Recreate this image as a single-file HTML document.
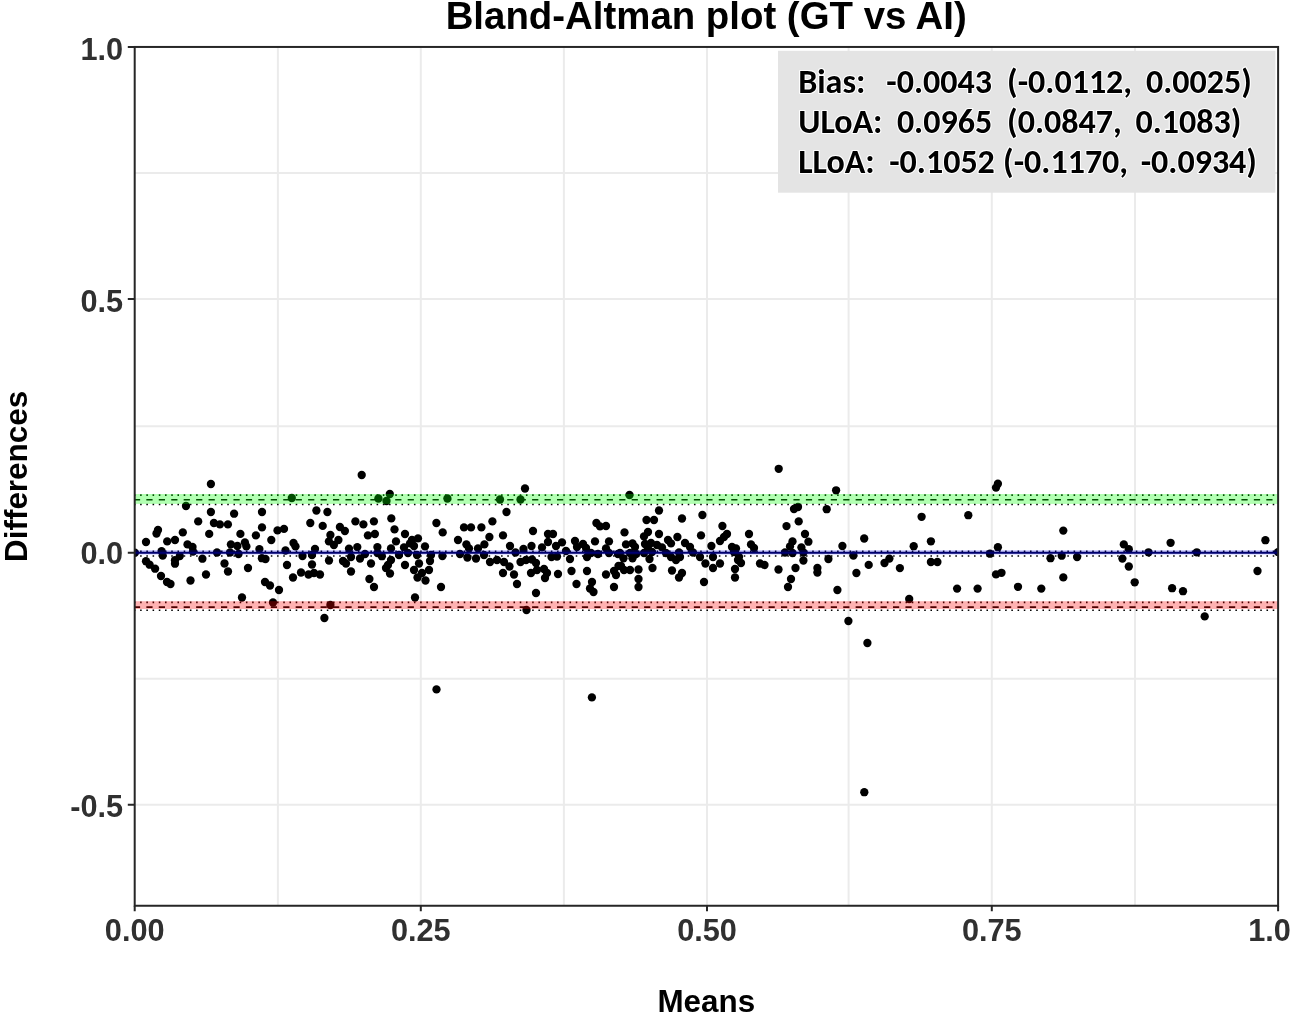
<!DOCTYPE html><html><head><meta charset="utf-8"><title>Bland-Altman plot (GT vs AI)</title><style>
html,body{margin:0;padding:0;background:#fff;width:1291px;height:1014px;overflow:hidden}
svg{display:block}
.lab{font-family:"Liberation Sans",Arial,sans-serif;font-weight:bold}
.tk{font-size:30.7px;fill:#303030}
.st{font-family:Carlito,Calibri,"Liberation Sans",sans-serif;font-weight:bold;font-size:34px;fill:#000;stroke:#fff;stroke-width:2.2px;paint-order:stroke;stroke-linejoin:round}
</style></head><body>
<svg width="1291" height="1014" viewBox="0 0 1291 1014">
<defs><clipPath id="pc"><rect x="134.7" y="46.95" width="1143.4" height="858.80"/></clipPath></defs>
<rect width="1291" height="1014" fill="#fff"/>
<path d="M277.90 46.95V905.75M420.80 46.95V905.75M563.90 46.95V905.75M707.00 46.95V905.75M848.60 46.95V905.75M991.80 46.95V905.75M1135.00 46.95V905.75M134.7 173.00H1278.1M134.7 299.05H1278.1M134.7 426.30H1278.1M134.7 552.70H1278.1M134.7 678.70H1278.1M134.7 804.70H1278.1" stroke="#ebebeb" stroke-width="2" fill="none"/>
<g clip-path="url(#pc)">
<g fill="#000">
<circle cx="210.9" cy="484.0" r="4.15"/>
<circle cx="186.0" cy="506.0" r="4.15"/>
<circle cx="210.9" cy="512.0" r="4.15"/>
<circle cx="234.1" cy="513.7" r="4.15"/>
<circle cx="198.2" cy="521.4" r="4.15"/>
<circle cx="213.9" cy="523.0" r="4.15"/>
<circle cx="219.9" cy="524.4" r="4.15"/>
<circle cx="227.9" cy="524.4" r="4.15"/>
<circle cx="158.0" cy="530.0" r="4.15"/>
<circle cx="156.5" cy="533.5" r="4.15"/>
<circle cx="182.8" cy="532.4" r="4.15"/>
<circle cx="209.2" cy="533.9" r="4.15"/>
<circle cx="240.4" cy="533.9" r="4.15"/>
<circle cx="255.9" cy="535.4" r="4.15"/>
<circle cx="146.0" cy="542.0" r="4.15"/>
<circle cx="167.2" cy="541.4" r="4.15"/>
<circle cx="175.0" cy="540.0" r="4.15"/>
<circle cx="187.5" cy="544.4" r="4.15"/>
<circle cx="192.5" cy="547.0" r="4.15"/>
<circle cx="230.9" cy="544.4" r="4.15"/>
<circle cx="237.4" cy="546.0" r="4.15"/>
<circle cx="244.9" cy="542.4" r="4.15"/>
<circle cx="246.4" cy="546.4" r="4.15"/>
<circle cx="161.6" cy="551.1" r="4.15"/>
<circle cx="162.7" cy="555.6" r="4.15"/>
<circle cx="179.8" cy="556.1" r="4.15"/>
<circle cx="175.0" cy="560.2" r="4.15"/>
<circle cx="175.0" cy="563.7" r="4.15"/>
<circle cx="146.0" cy="561.2" r="4.15"/>
<circle cx="149.6" cy="564.7" r="4.15"/>
<circle cx="155.1" cy="568.7" r="4.15"/>
<circle cx="161.0" cy="576.0" r="4.15"/>
<circle cx="167.0" cy="582.0" r="4.15"/>
<circle cx="170.5" cy="584.0" r="4.15"/>
<circle cx="190.5" cy="580.5" r="4.15"/>
<circle cx="206.0" cy="574.5" r="4.15"/>
<circle cx="202.4" cy="558.7" r="4.15"/>
<circle cx="217.0" cy="552.5" r="4.15"/>
<circle cx="224.5" cy="563.5" r="4.15"/>
<circle cx="228.0" cy="571.5" r="4.15"/>
<circle cx="248.0" cy="568.0" r="4.15"/>
<circle cx="242.0" cy="597.5" r="4.15"/>
<circle cx="230.0" cy="552.5" r="4.15"/>
<circle cx="238.5" cy="554.0" r="4.15"/>
<circle cx="193.0" cy="551.5" r="4.15"/>
<circle cx="259.4" cy="549.1" r="4.15"/>
<circle cx="261.9" cy="558.2" r="4.15"/>
<circle cx="361.7" cy="475.0" r="4.15"/>
<circle cx="291.8" cy="498.0" r="4.15"/>
<circle cx="378.4" cy="498.5" r="4.15"/>
<circle cx="262.0" cy="512.0" r="4.15"/>
<circle cx="316.4" cy="510.5" r="4.15"/>
<circle cx="327.4" cy="512.0" r="4.15"/>
<circle cx="310.3" cy="523.0" r="4.15"/>
<circle cx="322.7" cy="525.9" r="4.15"/>
<circle cx="355.4" cy="521.4" r="4.15"/>
<circle cx="363.4" cy="524.4" r="4.15"/>
<circle cx="373.9" cy="521.4" r="4.15"/>
<circle cx="262.0" cy="527.4" r="4.15"/>
<circle cx="277.5" cy="530.4" r="4.15"/>
<circle cx="284.0" cy="528.9" r="4.15"/>
<circle cx="271.3" cy="540.0" r="4.15"/>
<circle cx="339.9" cy="527.0" r="4.15"/>
<circle cx="344.9" cy="531.0" r="4.15"/>
<circle cx="330.4" cy="535.0" r="4.15"/>
<circle cx="338.4" cy="540.0" r="4.15"/>
<circle cx="328.9" cy="541.4" r="4.15"/>
<circle cx="333.9" cy="545.0" r="4.15"/>
<circle cx="367.9" cy="535.4" r="4.15"/>
<circle cx="374.9" cy="534.0" r="4.15"/>
<circle cx="293.5" cy="543.0" r="4.15"/>
<circle cx="295.5" cy="546.4" r="4.15"/>
<circle cx="265.5" cy="559.0" r="4.15"/>
<circle cx="285.5" cy="550.5" r="4.15"/>
<circle cx="302.5" cy="556.0" r="4.15"/>
<circle cx="315.0" cy="549.0" r="4.15"/>
<circle cx="312.0" cy="555.0" r="4.15"/>
<circle cx="287.0" cy="565.0" r="4.15"/>
<circle cx="312.0" cy="564.5" r="4.15"/>
<circle cx="301.0" cy="572.5" r="4.15"/>
<circle cx="308.5" cy="574.5" r="4.15"/>
<circle cx="314.0" cy="573.0" r="4.15"/>
<circle cx="320.0" cy="574.5" r="4.15"/>
<circle cx="293.0" cy="577.5" r="4.15"/>
<circle cx="265.0" cy="582.0" r="4.15"/>
<circle cx="270.0" cy="585.5" r="4.15"/>
<circle cx="279.0" cy="590.0" r="4.15"/>
<circle cx="273.0" cy="602.5" r="4.15"/>
<circle cx="330.4" cy="605.0" r="4.15"/>
<circle cx="324.4" cy="618.0" r="4.15"/>
<circle cx="329.0" cy="560.5" r="4.15"/>
<circle cx="343.0" cy="561.0" r="4.15"/>
<circle cx="346.0" cy="563.5" r="4.15"/>
<circle cx="351.0" cy="571.5" r="4.15"/>
<circle cx="349.0" cy="548.6" r="4.15"/>
<circle cx="357.3" cy="547.1" r="4.15"/>
<circle cx="351.0" cy="557.0" r="4.15"/>
<circle cx="360.0" cy="558.5" r="4.15"/>
<circle cx="365.0" cy="554.0" r="4.15"/>
<circle cx="371.0" cy="563.5" r="4.15"/>
<circle cx="369.4" cy="579.0" r="4.15"/>
<circle cx="374.0" cy="587.0" r="4.15"/>
<circle cx="377.4" cy="547.1" r="4.15"/>
<circle cx="377.5" cy="553.0" r="4.15"/>
<circle cx="381.9" cy="556.2" r="4.15"/>
<circle cx="389.8" cy="494.0" r="4.15"/>
<circle cx="386.5" cy="501.0" r="4.15"/>
<circle cx="447.4" cy="498.5" r="4.15"/>
<circle cx="500.0" cy="499.5" r="4.15"/>
<circle cx="391.3" cy="518.4" r="4.15"/>
<circle cx="394.5" cy="529.4" r="4.15"/>
<circle cx="405.0" cy="534.0" r="4.15"/>
<circle cx="396.0" cy="541.4" r="4.15"/>
<circle cx="418.0" cy="538.4" r="4.15"/>
<circle cx="412.0" cy="540.0" r="4.15"/>
<circle cx="410.0" cy="543.4" r="4.15"/>
<circle cx="414.0" cy="546.0" r="4.15"/>
<circle cx="391.0" cy="548.4" r="4.15"/>
<circle cx="404.0" cy="547.4" r="4.15"/>
<circle cx="425.0" cy="546.4" r="4.15"/>
<circle cx="436.4" cy="523.0" r="4.15"/>
<circle cx="442.7" cy="532.4" r="4.15"/>
<circle cx="464.0" cy="527.4" r="4.15"/>
<circle cx="471.0" cy="527.4" r="4.15"/>
<circle cx="481.4" cy="527.4" r="4.15"/>
<circle cx="492.4" cy="521.4" r="4.15"/>
<circle cx="458.0" cy="540.0" r="4.15"/>
<circle cx="466.4" cy="544.4" r="4.15"/>
<circle cx="489.4" cy="537.0" r="4.15"/>
<circle cx="484.4" cy="544.4" r="4.15"/>
<circle cx="478.0" cy="548.4" r="4.15"/>
<circle cx="469.0" cy="548.4" r="4.15"/>
<circle cx="399.0" cy="555.0" r="4.15"/>
<circle cx="408.0" cy="553.0" r="4.15"/>
<circle cx="417.0" cy="555.0" r="4.15"/>
<circle cx="431.0" cy="555.0" r="4.15"/>
<circle cx="442.4" cy="556.0" r="4.15"/>
<circle cx="391.0" cy="560.0" r="4.15"/>
<circle cx="388.0" cy="565.0" r="4.15"/>
<circle cx="386.0" cy="568.0" r="4.15"/>
<circle cx="390.0" cy="573.5" r="4.15"/>
<circle cx="405.0" cy="565.0" r="4.15"/>
<circle cx="419.0" cy="563.5" r="4.15"/>
<circle cx="430.0" cy="561.0" r="4.15"/>
<circle cx="414.0" cy="570.0" r="4.15"/>
<circle cx="429.0" cy="570.0" r="4.15"/>
<circle cx="422.0" cy="573.0" r="4.15"/>
<circle cx="417.5" cy="577.5" r="4.15"/>
<circle cx="425.5" cy="580.5" r="4.15"/>
<circle cx="441.0" cy="587.0" r="4.15"/>
<circle cx="415.0" cy="597.5" r="4.15"/>
<circle cx="460.0" cy="554.0" r="4.15"/>
<circle cx="467.4" cy="557.5" r="4.15"/>
<circle cx="476.0" cy="558.5" r="4.15"/>
<circle cx="490.0" cy="562.0" r="4.15"/>
<circle cx="497.0" cy="560.0" r="4.15"/>
<circle cx="484.0" cy="555.0" r="4.15"/>
<circle cx="525.0" cy="488.5" r="4.15"/>
<circle cx="520.5" cy="499.5" r="4.15"/>
<circle cx="506.5" cy="512.0" r="4.15"/>
<circle cx="533.0" cy="531.0" r="4.15"/>
<circle cx="503.0" cy="535.4" r="4.15"/>
<circle cx="548.0" cy="534.0" r="4.15"/>
<circle cx="553.0" cy="534.0" r="4.15"/>
<circle cx="596.4" cy="523.0" r="4.15"/>
<circle cx="600.0" cy="526.4" r="4.15"/>
<circle cx="606.0" cy="526.0" r="4.15"/>
<circle cx="595.0" cy="541.4" r="4.15"/>
<circle cx="609.0" cy="541.4" r="4.15"/>
<circle cx="575.0" cy="541.0" r="4.15"/>
<circle cx="583.0" cy="544.0" r="4.15"/>
<circle cx="562.0" cy="542.4" r="4.15"/>
<circle cx="548.0" cy="542.0" r="4.15"/>
<circle cx="510.0" cy="546.0" r="4.15"/>
<circle cx="531.5" cy="546.0" r="4.15"/>
<circle cx="542.0" cy="547.4" r="4.15"/>
<circle cx="556.0" cy="546.0" r="4.15"/>
<circle cx="523.5" cy="549.0" r="4.15"/>
<circle cx="606.0" cy="548.4" r="4.15"/>
<circle cx="515.5" cy="552.5" r="4.15"/>
<circle cx="566.0" cy="551.0" r="4.15"/>
<circle cx="577.0" cy="547.0" r="4.15"/>
<circle cx="586.0" cy="548.0" r="4.15"/>
<circle cx="591.0" cy="553.0" r="4.15"/>
<circle cx="598.0" cy="554.0" r="4.15"/>
<circle cx="609.0" cy="553.0" r="4.15"/>
<circle cx="618.0" cy="554.0" r="4.15"/>
<circle cx="551.5" cy="557.0" r="4.15"/>
<circle cx="557.0" cy="556.5" r="4.15"/>
<circle cx="570.0" cy="559.0" r="4.15"/>
<circle cx="587.0" cy="557.0" r="4.15"/>
<circle cx="504.0" cy="562.0" r="4.15"/>
<circle cx="509.5" cy="566.5" r="4.15"/>
<circle cx="520.5" cy="562.0" r="4.15"/>
<circle cx="526.0" cy="560.0" r="4.15"/>
<circle cx="532.0" cy="559.5" r="4.15"/>
<circle cx="536.0" cy="563.0" r="4.15"/>
<circle cx="503.0" cy="573.0" r="4.15"/>
<circle cx="514.0" cy="574.5" r="4.15"/>
<circle cx="517.0" cy="584.0" r="4.15"/>
<circle cx="531.0" cy="573.0" r="4.15"/>
<circle cx="537.0" cy="570.0" r="4.15"/>
<circle cx="544.0" cy="569.0" r="4.15"/>
<circle cx="547.0" cy="573.0" r="4.15"/>
<circle cx="545.0" cy="578.0" r="4.15"/>
<circle cx="558.0" cy="574.0" r="4.15"/>
<circle cx="536.0" cy="593.0" r="4.15"/>
<circle cx="526.5" cy="610.0" r="4.15"/>
<circle cx="571.5" cy="571.0" r="4.15"/>
<circle cx="587.0" cy="571.0" r="4.15"/>
<circle cx="576.5" cy="584.0" r="4.15"/>
<circle cx="592.0" cy="582.0" r="4.15"/>
<circle cx="590.0" cy="588.5" r="4.15"/>
<circle cx="593.5" cy="592.0" r="4.15"/>
<circle cx="606.0" cy="574.5" r="4.15"/>
<circle cx="614.0" cy="571.0" r="4.15"/>
<circle cx="616.0" cy="575.0" r="4.15"/>
<circle cx="614.0" cy="587.0" r="4.15"/>
<circle cx="618.5" cy="566.0" r="4.15"/>
<circle cx="629.5" cy="495.0" r="4.15"/>
<circle cx="659.0" cy="510.5" r="4.15"/>
<circle cx="646.5" cy="520.0" r="4.15"/>
<circle cx="654.0" cy="520.0" r="4.15"/>
<circle cx="682.0" cy="518.5" r="4.15"/>
<circle cx="702.4" cy="515.0" r="4.15"/>
<circle cx="722.4" cy="526.0" r="4.15"/>
<circle cx="624.5" cy="532.4" r="4.15"/>
<circle cx="648.0" cy="532.0" r="4.15"/>
<circle cx="644.0" cy="536.4" r="4.15"/>
<circle cx="659.0" cy="534.0" r="4.15"/>
<circle cx="677.4" cy="537.0" r="4.15"/>
<circle cx="701.0" cy="535.4" r="4.15"/>
<circle cx="727.0" cy="534.0" r="4.15"/>
<circle cx="720.0" cy="541.0" r="4.15"/>
<circle cx="724.0" cy="537.0" r="4.15"/>
<circle cx="668.0" cy="540.0" r="4.15"/>
<circle cx="671.0" cy="543.4" r="4.15"/>
<circle cx="685.0" cy="543.0" r="4.15"/>
<circle cx="690.0" cy="547.0" r="4.15"/>
<circle cx="711.4" cy="546.0" r="4.15"/>
<circle cx="732.0" cy="547.0" r="4.15"/>
<circle cx="626.0" cy="544.4" r="4.15"/>
<circle cx="632.5" cy="543.4" r="4.15"/>
<circle cx="635.0" cy="547.0" r="4.15"/>
<circle cx="645.0" cy="544.0" r="4.15"/>
<circle cx="651.0" cy="543.0" r="4.15"/>
<circle cx="657.0" cy="545.0" r="4.15"/>
<circle cx="662.0" cy="547.4" r="4.15"/>
<circle cx="648.0" cy="548.4" r="4.15"/>
<circle cx="620.0" cy="553.0" r="4.15"/>
<circle cx="630.0" cy="553.0" r="4.15"/>
<circle cx="636.0" cy="554.0" r="4.15"/>
<circle cx="644.0" cy="553.0" r="4.15"/>
<circle cx="652.0" cy="552.0" r="4.15"/>
<circle cx="666.0" cy="553.0" r="4.15"/>
<circle cx="679.0" cy="552.5" r="4.15"/>
<circle cx="693.0" cy="552.5" r="4.15"/>
<circle cx="734.0" cy="552.0" r="4.15"/>
<circle cx="623.5" cy="558.3" r="4.15"/>
<circle cx="632.5" cy="558.3" r="4.15"/>
<circle cx="649.5" cy="559.0" r="4.15"/>
<circle cx="671.0" cy="557.0" r="4.15"/>
<circle cx="676.0" cy="560.0" r="4.15"/>
<circle cx="680.0" cy="557.0" r="4.15"/>
<circle cx="700.0" cy="557.0" r="4.15"/>
<circle cx="705.4" cy="563.5" r="4.15"/>
<circle cx="713.0" cy="557.0" r="4.15"/>
<circle cx="720.0" cy="563.5" r="4.15"/>
<circle cx="713.0" cy="568.0" r="4.15"/>
<circle cx="735.0" cy="569.0" r="4.15"/>
<circle cx="735.0" cy="577.5" r="4.15"/>
<circle cx="738.0" cy="560.0" r="4.15"/>
<circle cx="621.0" cy="566.0" r="4.15"/>
<circle cx="624.0" cy="570.0" r="4.15"/>
<circle cx="630.0" cy="570.0" r="4.15"/>
<circle cx="638.5" cy="569.5" r="4.15"/>
<circle cx="638.5" cy="579.0" r="4.15"/>
<circle cx="638.5" cy="587.0" r="4.15"/>
<circle cx="652.5" cy="568.0" r="4.15"/>
<circle cx="672.0" cy="570.5" r="4.15"/>
<circle cx="682.0" cy="573.0" r="4.15"/>
<circle cx="679.0" cy="577.5" r="4.15"/>
<circle cx="704.0" cy="582.0" r="4.15"/>
<circle cx="778.7" cy="468.8" r="4.15"/>
<circle cx="836.1" cy="490.3" r="4.15"/>
<circle cx="794.0" cy="509.0" r="4.15"/>
<circle cx="798.0" cy="507.0" r="4.15"/>
<circle cx="826.7" cy="509.2" r="4.15"/>
<circle cx="798.7" cy="521.4" r="4.15"/>
<circle cx="786.5" cy="526.1" r="4.15"/>
<circle cx="749.0" cy="534.0" r="4.15"/>
<circle cx="805.0" cy="534.0" r="4.15"/>
<circle cx="792.5" cy="541.4" r="4.15"/>
<circle cx="808.4" cy="541.7" r="4.15"/>
<circle cx="842.4" cy="546.0" r="4.15"/>
<circle cx="751.0" cy="544.4" r="4.15"/>
<circle cx="754.0" cy="548.0" r="4.15"/>
<circle cx="736.0" cy="548.4" r="4.15"/>
<circle cx="790.0" cy="546.4" r="4.15"/>
<circle cx="801.4" cy="547.4" r="4.15"/>
<circle cx="785.0" cy="552.5" r="4.15"/>
<circle cx="792.5" cy="553.0" r="4.15"/>
<circle cx="803.4" cy="552.5" r="4.15"/>
<circle cx="853.4" cy="555.5" r="4.15"/>
<circle cx="739.0" cy="557.0" r="4.15"/>
<circle cx="741.0" cy="563.0" r="4.15"/>
<circle cx="760.0" cy="563.5" r="4.15"/>
<circle cx="764.5" cy="565.0" r="4.15"/>
<circle cx="778.5" cy="569.5" r="4.15"/>
<circle cx="803.4" cy="560.5" r="4.15"/>
<circle cx="795.5" cy="568.0" r="4.15"/>
<circle cx="791.0" cy="579.0" r="4.15"/>
<circle cx="788.0" cy="587.0" r="4.15"/>
<circle cx="828.4" cy="559.0" r="4.15"/>
<circle cx="817.4" cy="568.0" r="4.15"/>
<circle cx="817.4" cy="572.5" r="4.15"/>
<circle cx="856.4" cy="573.0" r="4.15"/>
<circle cx="837.4" cy="590.0" r="4.15"/>
<circle cx="848.4" cy="621.0" r="4.15"/>
<circle cx="997.9" cy="483.7" r="4.15"/>
<circle cx="996.0" cy="487.6" r="4.15"/>
<circle cx="921.6" cy="516.8" r="4.15"/>
<circle cx="968.3" cy="515.2" r="4.15"/>
<circle cx="864.2" cy="538.5" r="4.15"/>
<circle cx="913.7" cy="546.2" r="4.15"/>
<circle cx="930.9" cy="541.3" r="4.15"/>
<circle cx="997.9" cy="547.2" r="4.15"/>
<circle cx="990.0" cy="553.7" r="4.15"/>
<circle cx="868.7" cy="564.9" r="4.15"/>
<circle cx="884.5" cy="563.0" r="4.15"/>
<circle cx="889.4" cy="558.6" r="4.15"/>
<circle cx="899.9" cy="568.1" r="4.15"/>
<circle cx="930.9" cy="562.0" r="4.15"/>
<circle cx="937.4" cy="562.0" r="4.15"/>
<circle cx="996.0" cy="574.4" r="4.15"/>
<circle cx="1001.5" cy="572.8" r="4.15"/>
<circle cx="957.1" cy="588.6" r="4.15"/>
<circle cx="977.6" cy="588.6" r="4.15"/>
<circle cx="1018.0" cy="586.8" r="4.15"/>
<circle cx="1041.3" cy="588.6" r="4.15"/>
<circle cx="909.2" cy="599.0" r="4.15"/>
<circle cx="867.4" cy="643.0" r="4.15"/>
<circle cx="1063.3" cy="530.6" r="4.15"/>
<circle cx="1123.8" cy="544.4" r="4.15"/>
<circle cx="1128.8" cy="549.2" r="4.15"/>
<circle cx="1170.6" cy="542.8" r="4.15"/>
<circle cx="1050.5" cy="558.2" r="4.15"/>
<circle cx="1061.7" cy="555.7" r="4.15"/>
<circle cx="1077.1" cy="557.0" r="4.15"/>
<circle cx="1122.4" cy="558.6" r="4.15"/>
<circle cx="1128.8" cy="566.5" r="4.15"/>
<circle cx="1148.5" cy="552.3" r="4.15"/>
<circle cx="1196.8" cy="552.3" r="4.15"/>
<circle cx="1063.3" cy="577.4" r="4.15"/>
<circle cx="1134.7" cy="582.3" r="4.15"/>
<circle cx="1172.1" cy="588.2" r="4.15"/>
<circle cx="1183.0" cy="591.2" r="4.15"/>
<circle cx="1204.7" cy="616.4" r="4.15"/>
<circle cx="1265.4" cy="540.2" r="4.15"/>
<circle cx="1278.0" cy="552.1" r="4.15"/>
<circle cx="1257.5" cy="571.0" r="4.15"/>
<circle cx="436.5" cy="689.4" r="4.15"/>
<circle cx="591.9" cy="697.4" r="4.15"/>
<circle cx="864.3" cy="792.2" r="4.15"/>
<circle cx="134.9" cy="552.7" r="4.15"/>
</g>
<path d="M133.9 495.10H1278.1" stroke="#000" stroke-width="1.60" stroke-dasharray="1.556 4.667" fill="none"/>
<path d="M133.9 504.50H1278.1" stroke="#000" stroke-width="1.60" stroke-dasharray="1.556 4.667" fill="none"/>
<path d="M133.9 499.80H1278.1" stroke="#000" stroke-width="1.60" stroke-dasharray="6.222 6.222" fill="none"/>
<path d="M133.9 602.40H1278.1" stroke="#000" stroke-width="1.60" stroke-dasharray="1.556 4.667" fill="none"/>
<path d="M133.9 610.20H1278.1" stroke="#000" stroke-width="1.60" stroke-dasharray="1.556 4.667" fill="none"/>
<path d="M133.9 607.10H1278.1" stroke="#000" stroke-width="1.60" stroke-dasharray="6.222 6.222" fill="none"/>
<path d="M133.9 551.20H1278.1" stroke="#000" stroke-width="1.60" stroke-dasharray="1.556 4.667" fill="none"/>
<path d="M133.9 556.00H1278.1" stroke="#000" stroke-width="1.60" stroke-dasharray="1.556 4.667" fill="none"/>
<rect x="134.7" y="494" width="1143.4" height="9.9" fill="#00ff00" fill-opacity="0.3"/>
<rect x="134.7" y="601.2" width="1143.4" height="7.8" fill="#ff0000" fill-opacity="0.3"/>
<rect x="134.7" y="550.1" width="1143.4" height="4.5" fill="#0000ff" fill-opacity="0.2"/>
<path d="M133.9 552.80H1278.1" stroke="#000070" stroke-width="1.90" fill="none"/>
</g>
<rect x="134.7" y="46.95" width="1143.4" height="858.80" fill="none" stroke="#262626" stroke-width="2"/>
<path d="M127.8 46.95H134.7M127.8 298.95H134.7M127.8 552.70H134.7M127.8 804.70H134.7M134.70 905.75V911.3M420.80 905.75V911.3M707.00 905.75V911.3M991.80 905.75V911.3M1278.10 905.75V911.3" stroke="#262626" stroke-width="2" fill="none"/>
<rect x="778" y="50.8" width="497.4" height="141.9" fill="#e4e4e4"/>
<text class="lab tk" x="123.2" y="59.6" text-anchor="end">1.0</text>
<text class="lab tk" x="123.2" y="311.6" text-anchor="end">0.5</text>
<text class="lab tk" x="123.2" y="563.7" text-anchor="end">0.0</text>
<text class="lab tk" x="123.2" y="817.1" text-anchor="end">-0.5</text>
<text class="lab tk" x="134.70" y="940.6" text-anchor="middle">0.00</text>
<text class="lab tk" x="420.80" y="940.6" text-anchor="middle">0.25</text>
<text class="lab tk" x="707.00" y="940.6" text-anchor="middle">0.50</text>
<text class="lab tk" x="991.80" y="940.6" text-anchor="middle">0.75</text>
<text class="lab tk" x="1278.10" y="940.6" text-anchor="middle">1.00</text>
<text class="lab" x="706.2" y="29" text-anchor="middle" font-size="38.4" fill="#000">Bland-Altman plot (GT vs AI)</text>
<text class="lab" x="706.3" y="1012.1" text-anchor="middle" font-size="31.4" fill="#000">Means</text>
<text class="lab" transform="translate(26.6 476.4) rotate(-90)" x="0" y="0" text-anchor="middle" font-size="31.4" fill="#000">Differences</text>
<text class="st" x="798.2" y="92.7" textLength="67.14" lengthAdjust="spacingAndGlyphs">Bias:</text>
<text class="st" x="886.3" y="92.7" textLength="105.66" lengthAdjust="spacingAndGlyphs">-0.0043</text>
<text class="st" x="1007.1" y="92.7" textLength="125.02" lengthAdjust="spacingAndGlyphs">(-0.0112,</text>
<text class="st" x="1146.0" y="92.7" textLength="105.84" lengthAdjust="spacingAndGlyphs">0.0025)</text>
<text class="st" x="798.2" y="133.0" textLength="84.31" lengthAdjust="spacingAndGlyphs">ULoA:</text>
<text class="st" x="896.9" y="133.0" textLength="95.25" lengthAdjust="spacingAndGlyphs">0.0965</text>
<text class="st" x="1007.1" y="133.0" textLength="114.61" lengthAdjust="spacingAndGlyphs">(0.0847,</text>
<text class="st" x="1135.5" y="133.0" textLength="105.84" lengthAdjust="spacingAndGlyphs">0.1083)</text>
<text class="st" x="798.2" y="173.0" textLength="76.48" lengthAdjust="spacingAndGlyphs">LLoA:</text>
<text class="st" x="889.2" y="173.0" textLength="105.66" lengthAdjust="spacingAndGlyphs">-0.1052</text>
<text class="st" x="1003.1" y="173.0" textLength="125.02" lengthAdjust="spacingAndGlyphs">(-0.1170,</text>
<text class="st" x="1140.7" y="173.0" textLength="116.25" lengthAdjust="spacingAndGlyphs">-0.0934)</text>
</svg></body></html>
